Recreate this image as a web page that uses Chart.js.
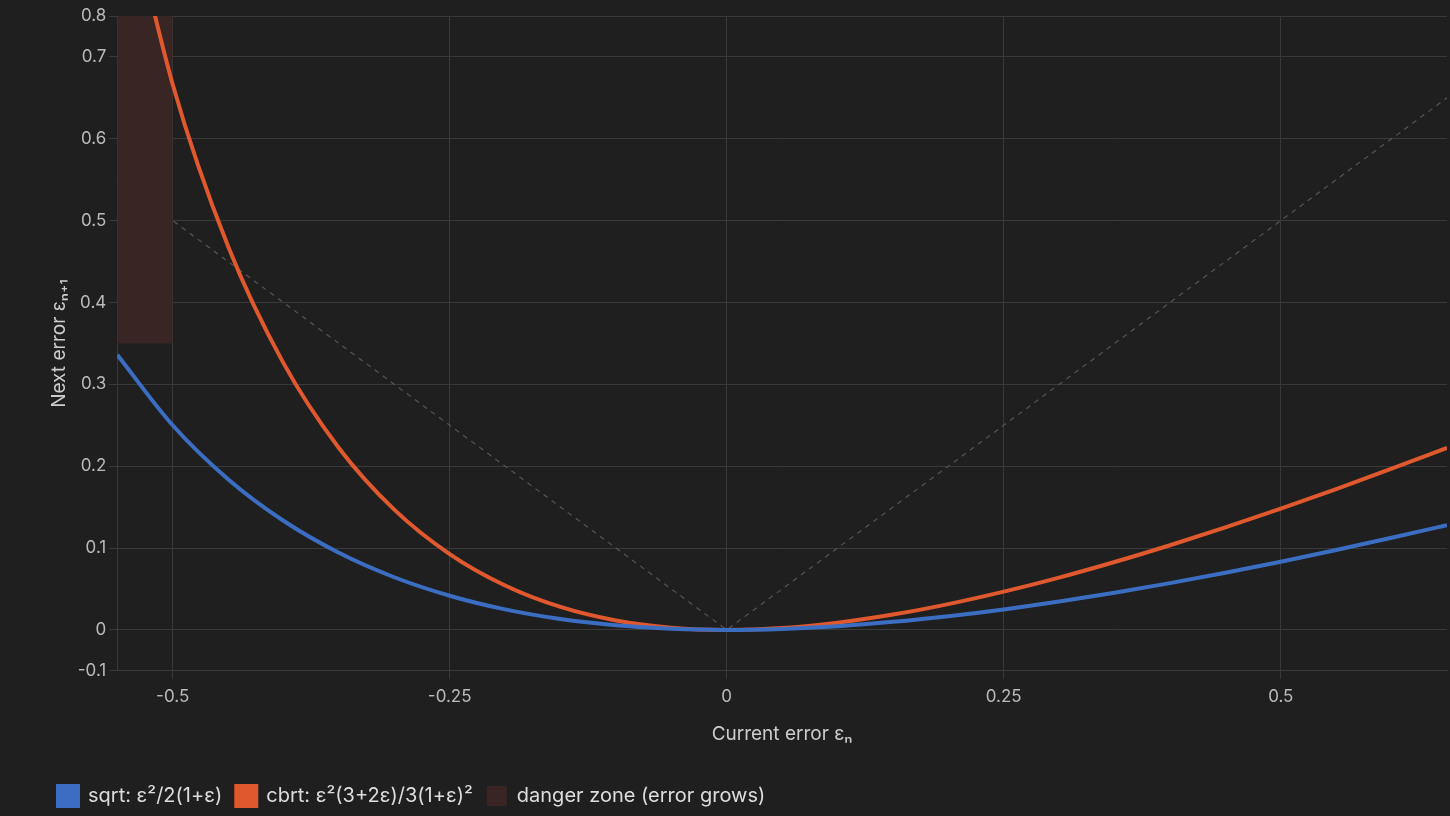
<!DOCTYPE html>
<html><head><meta charset="utf-8">
<script src="https://cdn.jsdelivr.net/npm/chart.js@4"></script>
<style>html,body{margin:0;padding:0;background:#1f1f1f;}#w{width:1450px;height:816px;}</style>
</head><body><div id="w"><canvas id="c"></canvas></div>
<script>
const xs = [-0.55,-0.5,-0.45,-0.4,-0.35,-0.3,-0.25,-0.2,-0.15,-0.1,-0.05,0,0.05,0.1,0.15,0.2,0.25,0.3,0.35,0.4,0.45,0.5,0.55,0.6,0.65];
const sqrtErr = [.3361,.25,.1841,.1333,.0942,.0643,.0417,.025,.0132,.0056,.0013,0,.0012,.0045,.0098,.0167,.025,.0346,.0454,.0571,.0698,.0833,.0976,.1125,.1280];
const cbrtErr = [.9461,.6667,.4686,.3259,.2223,.1469,.0926,.0542,.0280,.0115,.0027,0,.0023,.0088,.0187,.0315,.0467,.0639,.0829,.1034,.1252,.1481,.1721,.1969,.2224];
const identX = [-0.55,0,0.65];
const identY = [0.55,0,0.65];
const dangerX = [-0.55,-0.5];
const dangerTop = 0.8, dangerBottom = 0.35;
const xTicks = [-0.5,-0.25,0,0.25,0.5];
const yTicks = [-0.05,0,0.1,0.2,0.3,0.4,0.5,0.6,0.7,0.75];
const pts = (a,b)=>a.map((x,i)=>({x,y:b[i]}));
Chart.defaults.font.family = "Inter, 'Noto Sans', sans-serif";
new Chart(document.getElementById('c'), {
  type:'line',
  data:{datasets:[
    {label:'sqrt: ε²/2(1+ε)', data:pts(xs,sqrtErr), borderColor:'#3b6ec2', backgroundColor:'#3b6ec2', borderWidth:4, pointRadius:0, cubicInterpolationMode:'monotone'},
    {label:'cbrt: ε²(3+2ε)/3(1+ε)²', data:pts(xs,cbrtErr), borderColor:'#e0582e', backgroundColor:'#e0582e', borderWidth:4, pointRadius:0, cubicInterpolationMode:'monotone'},
    {label:'danger zone (error grows)', data:dangerX.map(x=>({x,y:dangerTop})), borderWidth:0, borderColor:'rgba(0,0,0,0)', backgroundColor:'#3a2525', fill:{value:dangerBottom}, pointRadius:0},
    {label:'identity', data:pts(identX,identY), borderColor:'#555', borderWidth:1.2, borderDash:[5,5], pointRadius:0}
  ]},
  options:{
    responsive:true, maintainAspectRatio:false, animation:false,
    layout:{padding:{right:3,top:16,left:44}},
    plugins:{legend:{position:'bottom', align:'start', labels:{color:'#ddd', font:{size:20}, boxWidth:20, boxHeight:20, padding:14, filter:i=>i.text!=='identity'}}, tooltip:{enabled:false}},
    scales:{
      x:{type:'linear', min:-0.55, max:0.65,
        afterBuildTicks:a=>{a.ticks=xTicks.map(v=>({value:v}));},
        ticks:{color:'#bbb', font:{size:17}, padding:8, callback:v=>String(v)},
        grid:{color:'#3a3a3a', tickLength:8},
        border:{color:'#3a3a3a'},
        title:{display:true, text:'Current error εₙ', color:'#ccc', font:{size:19}, padding:{top:8,bottom:26}}},
      y:{min:-0.05, max:0.75,
        afterBuildTicks:a=>{a.ticks=yTicks.map(v=>({value:v}));},
        ticks:{color:'#bbb', font:{size:17}, callback:v=>String(Number(v.toFixed(1)))},
        grid:{color:'#3a3a3a', tickLength:8},
        border:{color:'#3a3a3a'},
        title:{display:true, text:'Next error εₙ₊₁', color:'#ccc', font:{size:19}}}
    }
  }
});
</script></body></html>
